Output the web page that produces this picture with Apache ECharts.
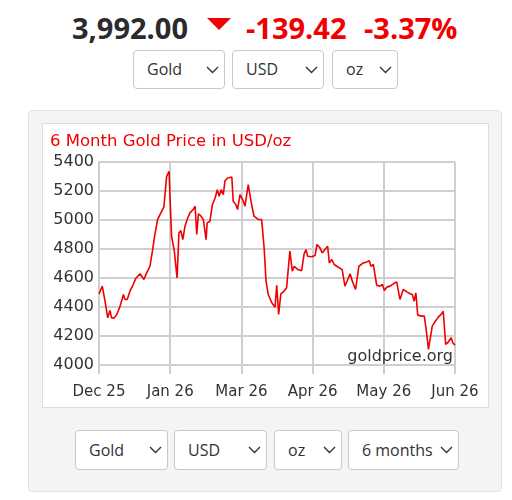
<!DOCTYPE html>
<html>
<head>
<meta charset="utf-8">
<script src="https://cdn.jsdelivr.net/npm/echarts/dist/echarts.min.js"></script>
<style>
    body { margin: 0; background: #fff; font-family: "Open Sans", sans-serif; }
    .page { position: relative; width: 512px; height: 500px; overflow: hidden; }
    .quote { position: absolute; top: 13px; font-size: 29px; line-height: 29px; font-weight: 700; white-space: nowrap; }
    .price { left: 72px; color: #2b2b2b; }
    .change { color: #f00000; }
    .arrow { position: absolute; left: 207px; top: 18px; width: 0; height: 0;
        border-left: 12.5px solid transparent; border-right: 12.5px solid transparent; border-top: 12px solid #f00000; }
    .select { position: absolute; box-sizing: border-box; background: #fff; border: 1px solid #c8c8c8; border-radius: 4px;
        font-size: 16px; color: #333; padding-left: 13px; white-space: nowrap; }
    .select svg { position: absolute; right: 5px; top: 50%; margin-top: -4px; }
    .panel { position: absolute; left: 28px; top: 110px; width: 474px; height: 382px; box-sizing: border-box;
        background: #f4f4f4; border: 1px solid #e2e2e2; border-radius: 4px; }
    .chart-box { position: absolute; left: 42px; top: 123px; width: 447px; height: 285px; box-sizing: border-box;
        background: #fff; border: 1px solid #dcdcdc; }
    #chart-gold { position: absolute; left: 42px; top: 123px; width: 447px; height: 285px; }
</style>
</head>
<body>
<div class="page">
    <div class="quote price">3,992.00</div>
    <div class="arrow"></div>
    <div class="quote change" style="left:246px">-139.42</div>
    <div class="quote change" style="left:364px">-3.37%</div>

    <div class="select" style="left:133px;top:50px;width:92px;height:39px;line-height:37px">Gold</div>
    <div class="select" style="left:232px;top:50px;width:92px;height:39px;line-height:37px">USD</div>
    <div class="select" style="left:332px;top:50px;width:66px;height:39px;line-height:37px">oz</div>

    <div class="panel"></div>
    <div class="chart-box"></div>
    <div id="chart-gold"></div>

    <div class="select" style="left:75px;top:430px;width:93px;height:40px;line-height:38px">Gold</div>
    <div class="select" style="left:174px;top:430px;width:93px;height:40px;line-height:38px">USD</div>
    <div class="select" style="left:274px;top:430px;width:68px;height:40px;line-height:38px">oz</div>
    <div class="select" style="left:348px;top:430px;width:111px;height:40px;line-height:38px">6 months</div>
</div>
<script>
// trading day index (0 = Dec 25, 130 = Jun 26) and price in USD/oz
const days = [
    0, 1.2, 2.2, 3.2, 4.0, 4.6, 5.6, 6.5, 7.7, 8.9, 9.5, 10.3, 11.3, 12.5, 13.4, 14.1, 15.0, 15.6, 16.4, 17.4,
    18.6, 19.5, 20.4, 21.4, 22.6, 23.7, 24.4, 24.7, 25.6, 25.9, 26.5, 27.5, 28.5, 29.2, 29.9, 30.6, 31.4, 32.4, 33.2, 33.9,
    34.4, 35.1, 35.7, 36.3, 37.1, 38.1, 39.1, 39.5, 40.5, 41.4, 42.4, 43.2, 43.9, 44.6, 45.4, 46.0, 47.0, 48.5, 49.0, 50.0,
    50.6, 51.5, 52.7, 53.3, 54.5, 55.5, 56.6, 58.2, 59.4, 60.3, 61.0, 61.8, 63.1, 64.3, 64.9, 65.6, 66.4, 67.3, 68.5, 69.7,
    70.6, 71.3, 72.6, 74.0, 74.9, 75.6, 76.2, 77.7, 78.9, 79.6, 80.7, 81.5, 82.5, 83.5, 84.1, 85.0, 85.9, 87.4, 88.8, 89.8,
    90.7, 91.7, 92.6, 93.7, 94.9, 96.5, 97.8, 98.7, 99.3, 100.2, 101.4, 102.6, 103.5, 104.2, 105.1, 106.3, 107.5, 108.7, 109.9, 111.1,
    112.4, 113.6, 114.4, 115.1, 115.7, 116.4, 117.8, 118.8, 119.7, 120.3, 120.9, 121.7, 122.7, 123.9, 125.1, 125.7, 126.6, 127.6, 128.6, 129.2,
    130
];
const prices = [
    4490, 4544, 4440, 4325, 4376, 4325, 4325, 4348, 4406, 4486, 4452, 4452, 4509, 4555, 4596, 4590, 4629, 4619, 4590, 4635,
    4681, 4785, 4899, 5003, 5049, 5090, 5090, 5301, 5336, 5175, 4888, 4785, 4601, 4911, 4927, 4865, 4957, 5014, 5049, 5037,
    5072, 5095, 4900, 5042, 5030, 5003, 4865, 4980, 4991, 5106, 5152, 5209, 5164, 5209, 5175, 5271, 5290, 5297, 5130, 5106,
    5072, 5175, 5130, 5095, 5244, 5130, 5026, 5003, 5003, 4808, 4578, 4486, 4429, 4399, 4550, 4348, 4491, 4504, 4532, 4785,
    4647, 4681, 4658, 4651, 4766, 4796, 4750, 4746, 4755, 4831, 4808, 4773, 4796, 4819, 4704, 4727, 4693, 4674, 4658, 4544,
    4583, 4629, 4573, 4521, 4681, 4704, 4711, 4720, 4681, 4693, 4550, 4544, 4555, 4514, 4537, 4544, 4560, 4573, 4452, 4521,
    4504, 4491, 4486, 4440, 4498, 4344, 4337, 4337, 4211, 4107, 4096, 4268, 4298, 4330, 4353, 4371, 4142, 4160, 4188, 4153,
    4137
];
const xLabels = ['Dec 25', 'Jan 26', 'Mar 26', 'Apr 26', 'May 26', 'Jun 26'];
const yTicks = [4000, 4200, 4400, 4600, 4800, 5000, 5200, 5400];

const gridColor = '#cfcfcf';
const labelFont = 'DejaVu Sans, Verdana, sans-serif';

let option = {
    animation: false,
    grid: { left: 57, top: 39, right: 34, bottom: 43 },
    graphic: [
        {
            type: 'text', left: 8, top: 10,
            style: { text: '6 Month Gold Price in USD/oz', fill: '#f00000', font: '16.5px ' + labelFont }
        },
        {
            type: 'text', z: 1, x: 411, y: 234,
            style: { text: 'goldprice.org', fill: '#333', font: '16px ' + labelFont, align: 'right', verticalAlign: 'middle' }
        }
    ],
    xAxis: {
        type: 'value',
        min: 0,
        max: 130,
        interval: 26,
        axisLine: { show: true, lineStyle: { color: gridColor, width: 2 } },
        axisTick: { show: true, length: 9, lineStyle: { color: gridColor, width: 2 } },
        splitLine: { show: true, lineStyle: { color: gridColor, width: 2 } },
        axisLabel: {
            margin: 20, color: '#333', fontSize: 15, fontFamily: labelFont,
            formatter: v => xLabels[Math.round(v / 26)]
        }
    },
    yAxis: {
        type: 'value',
        min: yTicks[0],
        max: yTicks[yTicks.length - 1],
        interval: 200,
        axisLine: { show: true, lineStyle: { color: gridColor, width: 2 } },
        axisTick: { show: false },
        splitLine: { show: true, lineStyle: { color: gridColor, width: 2 } },
        axisLabel: { margin: 5, color: '#333', fontSize: 16, fontFamily: labelFont, formatter: v => String(v) }
    },
    series: [
        {
            type: 'line',
            symbol: 'none',
            z: 3,
            lineStyle: { color: '#f00000', width: 1.6 },
            data: days.map((d, i) => [d, prices[i]])
        }
    ]
};

let chart_gold = echarts.init(document.getElementById('chart-gold'));
chart_gold.setOption(option);

// dropdown chevrons
document.querySelectorAll('.select').forEach(function (el) {
    el.insertAdjacentHTML('beforeend',
        '<svg width="13" height="8" viewBox="0 0 13 8"><polyline points="1,1 6.5,6.5 12,1" fill="none" stroke="#333" stroke-width="1.4"/></svg>');
});
</script>
</body>
</html>
